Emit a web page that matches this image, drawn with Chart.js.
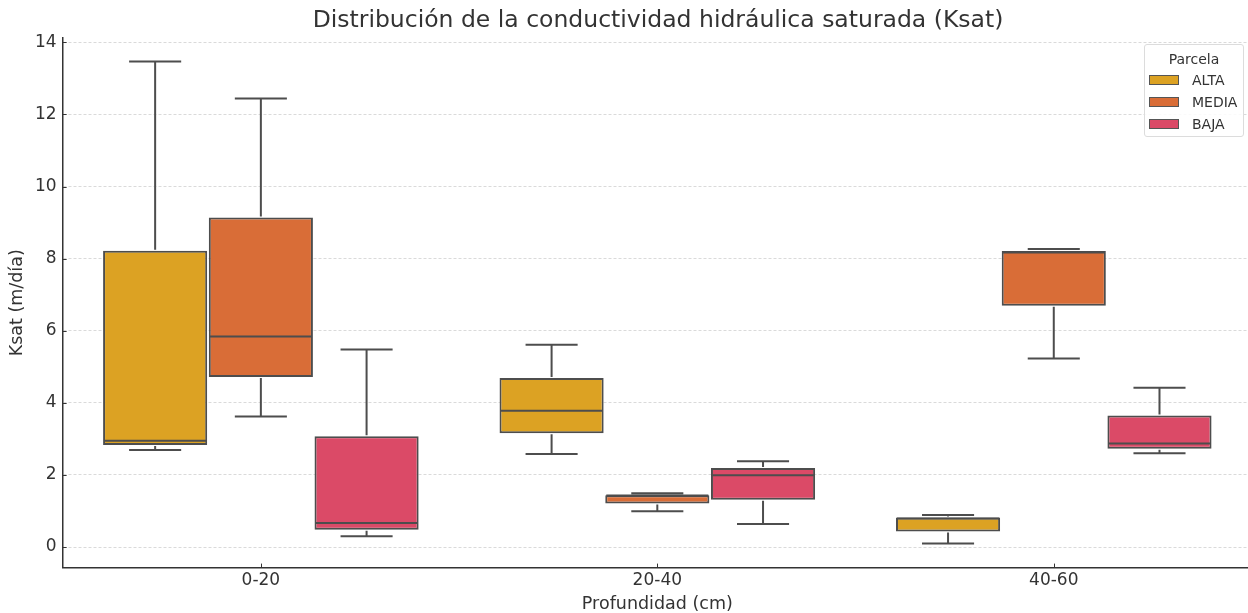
<!DOCTYPE html>
<html><head><meta charset="utf-8">
<script src="https://cdn.jsdelivr.net/npm/chart.js@4.4.1/dist/chart.umd.min.js"></script>
<style>
html,body{margin:0;padding:0;background:#fff;overflow:hidden;width:1248px;height:613px;}
#wrap{position:absolute;left:0;top:0;width:1260px;height:613px;}
#title{position:absolute;top:5px;left:0;width:1316px;text-align:center;font:23.5px "DejaVu Sans";color:#333;white-space:nowrap;line-height:28px;}
#legend{position:absolute;left:1144px;top:44px;width:100px;height:93px;box-sizing:border-box;border:1px solid #dcdcdc;border-radius:3px;background:rgba(255,255,255,0.85);font:14px "DejaVu Sans";color:#333;}
#legend .lt{text-align:center;margin-top:4px;height:20px;line-height:20px;}
#legend .it{display:flex;align-items:center;height:22px;}
#legend .sw{width:30px;height:10px;margin-left:4px;margin-right:13px;box-sizing:border-box;border:1px solid #555;}
</style></head><body>
<div id="wrap"><canvas id="c" width="1260" height="613"></canvas></div>
<div id="title">Distribución de la conductividad hidráulica saturada (Ksat)</div>
<div id="legend"></div>
<script>
const categories = ['0-20', '20-40', '40-60'];
const series = ['ALTA', 'MEDIA', 'BAJA'];
const seriesColors = ['#dca223', '#d96d37', '#db4a67'];
const yTicks = [0, 2, 4, 6, 8, 10, 12, 14];

// per series: whisker low, Q1, median, Q3, whisker high (one value per category)
const altaLow  = [2.69, 2.58, 0.10];
const altaQ1   = [2.83, 3.16, 0.43];
const altaMed  = [2.95, 3.78, 0.79];
const altaQ3   = [8.22, 4.69, 0.82];
const altaHigh = [13.47, 5.61, 0.89];

const mediaLow  = [3.62, 0.99, 5.23];
const mediaQ1   = [4.72, 1.21, 6.69];
const mediaMed  = [5.84, 1.43, 8.17];
const mediaQ3   = [9.14, 1.44, 8.21];
const mediaHigh = [12.44, 1.49, 8.27];

const bajaLow  = [0.30, 0.64, 2.60];
const bajaQ1   = [0.48, 1.31, 2.73];
const bajaMed  = [0.665, 1.99, 2.87];
const bajaQ3   = [3.07, 2.19, 3.65];
const bajaHigh = [5.48, 2.38, 4.42];

const stats = [
  {low: altaLow, q1: altaQ1, med: altaMed, q3: altaQ3, high: altaHigh},
  {low: mediaLow, q1: mediaQ1, med: mediaMed, q3: mediaQ3, high: mediaHigh},
  {low: bajaLow, q1: bajaQ1, med: bajaMed, q3: bajaQ3, high: bajaHigh}
];

const lineColor = '#4d4d4d';

const datasets = series.map((name, s) => ({
  label: name,
  data: categories.map((c, i) => [stats[s].q1[i], stats[s].q3[i]]),
  backgroundColor: seriesColors[s],
  borderColor: lineColor,
  borderWidth: 2,
  borderSkipped: false,
  categoryPercentage: 0.8,
  barPercentage: 0.985,
  stats: stats[s]
}));

const boxPlugin = {
  id: 'boxWhiskers',
  afterDatasetsDraw(chart) {
    const ctx = chart.ctx, y = chart.scales.y;
    ctx.save();
    ctx.strokeStyle = lineColor;
    ctx.lineWidth = 2;
    ctx.lineCap = 'butt';
    chart.data.datasets.forEach((ds, di) => {
      const meta = chart.getDatasetMeta(di);
      meta.data.forEach((bar, i) => {
        const st = ds.stats;
        const x = bar.x, w = bar.width;
        const pQ1 = y.getPixelForValue(st.q1[i]);
        const pQ3 = y.getPixelForValue(st.q3[i]);
        const pLo = y.getPixelForValue(st.low[i]);
        const pHi = y.getPixelForValue(st.high[i]);
        const pMed = y.getPixelForValue(st.med[i]);
        ctx.beginPath();
        ctx.moveTo(x, pQ3 - 1); ctx.lineTo(x, pHi);
        ctx.moveTo(x, pQ1 + 1); ctx.lineTo(x, pLo);
        ctx.moveTo(x - w / 4, pHi); ctx.lineTo(x + w / 4, pHi);
        ctx.moveTo(x - w / 4, pLo); ctx.lineTo(x + w / 4, pLo);
        ctx.moveTo(x - w / 2 + 1, pMed); ctx.lineTo(x + w / 2 - 1, pMed);
        ctx.stroke();
      });
    });
    ctx.restore();
  },
  afterDraw(chart) {
    const ctx = chart.ctx, y = chart.scales.y, xs = chart.scales.x;
    const a = chart.chartArea;
    ctx.save();
    ctx.strokeStyle = '#333';
    ctx.lineWidth = 1;
    ctx.beginPath();
    yTicks.forEach(v => {
      const p = Math.round(y.getPixelForValue(v)) + 0.5;
      ctx.moveTo(a.left, p); ctx.lineTo(a.left + 4, p);
    });
    categories.forEach((c, i) => {
      const p = Math.round(xs.getPixelForValue(i)) + 0.5;
      ctx.moveTo(p, a.bottom); ctx.lineTo(p, a.bottom - 4);
    });
    ctx.stroke();
    ctx.restore();
  }
};

new Chart(document.getElementById('c'), {
  type: 'bar',
  data: { labels: categories, datasets: datasets },
  plugins: [boxPlugin],
  options: {
    responsive: false,
    animation: false,
    layout: { padding: { top: 38, right: 8, left: 7, bottom: -2 } },
    plugins: { legend: { display: false }, tooltip: { enabled: false }, title: { display: false } },
    scales: {
      x: {
        offset: true,
        grid: { display: false, drawTicks: false },
        border: { display: true, color: '#333', width: 1.5 },
        ticks: { color: '#333', font: { family: 'DejaVu Sans', size: 17 }, padding: 3 },
        title: { display: true, text: 'Profundidad (cm)', color: '#333', font: { family: 'DejaVu Sans', size: 17.5 }, padding: { top: 0, bottom: 0 } }
      },
      y: {
        min: -0.57, max: 14.12,
        afterBuildTicks(scale) { scale.ticks = yTicks.map(v => ({ value: v })); },
        grid: { color: '#d0d0d0', lineWidth: 0.8, drawTicks: false },
        border: { display: true, color: '#333', width: 1.5, dash: [3, 2] },
        ticks: { color: '#333', font: { family: 'DejaVu Sans', size: 17 }, padding: 6 },
        title: { display: true, text: 'Ksat (m/día)', color: '#333', font: { family: 'DejaVu Sans', size: 17.5 }, padding: { top: 0, bottom: 1 } }
      }
    }
  }
});

const lg = document.getElementById('legend');
lg.innerHTML = '<div class="lt">Parcela</div>' + series.map((s, i) =>
  '<div class="it"><span class="sw" style="background:' + seriesColors[i] + '"></span>' + s + '</div>').join('');
</script>
</body></html>
